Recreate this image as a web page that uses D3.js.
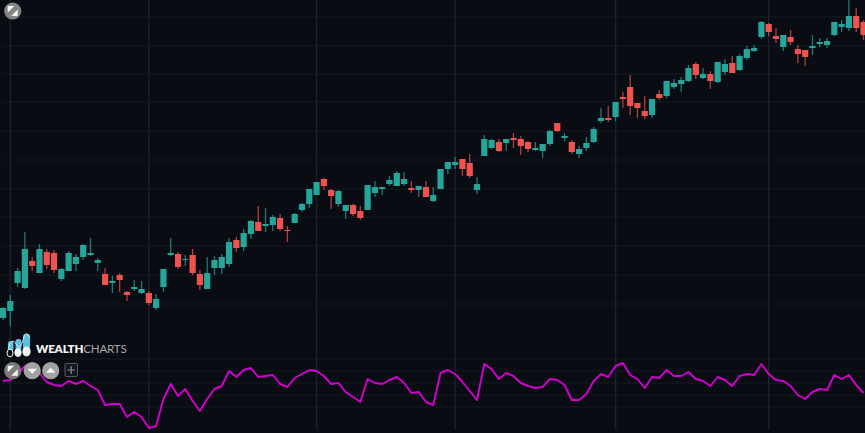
<!DOCTYPE html>
<html><head><meta charset="utf-8">
<script src="https://cdn.jsdelivr.net/npm/d3@7"></script>
<style>html,body{margin:0;padding:0;background:#090c12;overflow:hidden}svg{display:block}</style>
</head><body><svg id="c" width="865" height="433"></svg>
<script>
// price units, one series entry per session
const opens=[182,189,217,212,239,227,248,247,221,229,236,243,245,237,226,217,225,208,211,207,207,192,213,245,246,240,245,226,211,232,232,236,260,253,266,278,274,275,282,270,277,290,296,305,321,310,296,289,295,289,290,307,311,316,314,316,312,310,313,299,311,331,335,341,337,310,344,352,358,357,362,361,358,350,349,356,377,362,358,346,352,358,379,382,383,403,413,397,389,385,406,404,413,416,419,436,422,426,418,428,437,430,442,449,463,476,464,453,463,451,450,452,456,455,465,473,472,484,478];
const closes=[192,199,229,251,234,251,235,230,231,247,243,255,247,240,215,219,220,205,213,211,197,201,231,247,233,241,227,215,227,240,243,258,252,267,279,269,276,283,271,269,286,296,311,318,314,304,309,295,286,282,315,313,313,320,327,321,310,314,303,305,331,338,338,331,324,316,361,360,349,361,360,354,351,352,356,369,369,364,348,351,357,371,382,380,398,401,394,392,384,401,402,419,417,420,432,425,426,419,438,436,427,444,451,452,478,468,461,465,458,446,443,454,458,459,478,476,484,472,465];
const highs=[193,205,232,268,243,256,251,250,232,249,246,256,262,242,232,224,227,209,220,219,209,206,231,262,248,245,251,230,243,244,246,262,263,271,280,294,292,285,286,274,287,297,311,318,322,311,310,295,296,294,315,319,313,324,329,328,319,314,319,313,331,338,343,341,346,323,365,361,361,361,367,364,359,358,356,370,377,367,360,354,363,373,392,394,398,408,425,397,404,401,410,419,421,423,435,438,432,429,438,441,444,446,454,455,479,477,472,465,470,455,450,465,462,462,478,480,500,492,480];
const lows=[180,174,213,211,229,227,231,227,219,229,229,240,244,229,215,207,208,199,209,206,195,190,208,244,231,234,225,210,211,225,226,233,248,249,261,269,268,269,269,258,277,288,292,305,310,291,293,281,284,280,290,303,305,314,314,314,307,303,303,298,311,326,331,324,322,306,344,351,348,349,352,345,348,349,342,354,368,359,346,342,349,357,377,378,379,392,385,382,381,382,400,402,411,408,418,421,421,411,417,425,427,429,440,448,461,464,457,449,455,437,434,445,453,452,464,468,469,468,460];
const oscillator=[119,120,126,134,133,127,118,115,114,119,116,119,114,110,95,96,96,83,88,83,72,74,101,116,104,111,99,89,101,111,114,129,123,130,132,123,124,125,116,113,122,126,130,129,124,116,117,108,103,98,121,117,116,120,123,117,107,108,98,95,127,130,126,118,109,100,136,131,121,127,124,117,114,112,113,121,120,115,100,100,106,119,126,123,134,137,125,121,112,123,122,130,124,124,128,121,119,114,123,120,114,124,126,125,136,126,120,119,114,105,101,108,111,110,125,121,125,115,107];
const priceGrid=[196,225,254,283,311,340,369,398,426,454,483];
const oscGrid=[93,105,117,129,141];
const sessionLines=[1,20,43,62,84,105];
const logoWordBold="WEALTH", logoWordLight="CHARTS";

const W=865,H=433;
const svg=d3.select("#c");
const x=d3.scaleLinear().domain([0,118]).range([3,863.5]);
const y=d3.scaleLinear().domain([0,500]).range([500,0]);
const GRID="#151a22",UP="#26a69a",DOWN="#ef5350",LINE="#d400d0";
svg.append("rect").attr("width",W).attr("height",H).attr("fill","#090c12");
const g=svg.append("g").attr("stroke",GRID).attr("stroke-width",1.2);
g.selectAll(".h").data(priceGrid).join("line").attr("x1",2).attr("x2",W).attr("y1",d=>y(d)).attr("y2",d=>y(d));
g.selectAll(".o").data(oscGrid).join("line").attr("x1",2).attr("x2",W).attr("y1",d=>y(d)).attr("y2",d=>y(d));
g.selectAll(".v").data(sessionLines).join("line").attr("x1",d=>x(d)).attr("x2",d=>x(d)).attr("y1",0).attr("y2",430).attr("stroke","#1a212b").attr("stroke-width",1.5);

const idx=d3.range(opens.length);
const col=i=>closes[i]>=opens[i]?UP:DOWN;
const c=svg.append("g");
c.selectAll(".w").data(idx).join("line").attr("x1",x).attr("x2",x).attr("y1",i=>y(highs[i])).attr("y2",i=>y(lows[i])).attr("stroke",col).attr("stroke-width",1.3).attr("stroke-opacity",.72);
c.selectAll(".b").data(idx).join("rect").attr("x",i=>x(i)-3.1).attr("width",6.2).attr("y",i=>y(Math.max(opens[i],closes[i]))).attr("height",i=>Math.abs(opens[i]-closes[i])).attr("fill",col);

svg.append("path").datum(oscillator).attr("fill","none").attr("stroke",LINE).attr("stroke-width",1.9).attr("stroke-linejoin","round")
  .attr("d",d3.line().x((d,i)=>x(i)).y(d=>y(d)));

// logo
const lg=svg.append("g");
[[8,341,5.5,10],[15.5,339,6,11],[23,334,7,15]].forEach(([a,b,w,h])=>lg.append("rect").attr("x",a).attr("y",b).attr("width",w).attr("height",h).attr("rx",2.6).attr("fill","#5cc0df"));
lg.append("path").attr("d","M8,349 Q12,336 16,344 T23,340 T30,338").attr("fill","none").attr("stroke","#e8f4f8").attr("stroke-width",.8);
[[10,353,3,"#090c12"],[18,352.5,3.2,"#f2f4f4"],[26.5,351.5,3.6,"#f2f4f4"]].forEach(([a,b,r,f])=>lg.append("ellipse").attr("cx",a).attr("cy",b).attr("rx",r).attr("ry",r+.8).attr("fill",f).attr("stroke","#f2f4f4").attr("stroke-width",1));
const t=svg.append("text").attr("x",36).attr("y",352.5).attr("font-family","Lato, 'Open Sans', sans-serif").attr("font-size",11.6).attr("letter-spacing",-.2);
t.append("tspan").attr("font-weight",800).attr("fill","#f2f2f2").text(logoWordBold);
t.append("tspan").attr("font-weight",400).attr("fill","#a8a8a8").text(logoWordLight);

// buttons
function btn(cx,cy,kind,fill){
  const b=svg.append("g").attr("transform",`translate(${cx},${cy})`);
  b.append("circle").attr("r",8.6).attr("fill",fill);
  if(kind==="exp"){
    b.append("path").attr("d","M-5,-5 L1.5,-5 L-5,1.5Z M5,5 L-1.5,5 L5,-1.5Z").attr("fill","#f5f5f5");
  } else if(kind==="down") b.append("path").attr("d","M-4.8,-2 L4.8,-2 L0,3Z").attr("fill","#f5f5f5");
  else b.append("path").attr("d","M-4.8,2 L4.8,2 L0,-3Z").attr("fill","#f5f5f5");
}
btn(12.7,11,"exp","#858585");btn(12.7,370.7,"exp","#7a7a7a");btn(32.2,370.7,"down","#a2a2a2");btn(50.7,370.7,"up","#a2a2a2");
const pb=svg.append("g").attr("transform","translate(71,370)");
pb.append("rect").attr("x",-6).attr("y",-6.5).attr("width",12.5).attr("height",13).attr("rx",1.5).attr("fill","#13161c").attr("stroke","#565a60").attr("stroke-width",1);
pb.append("path").attr("d","M-3.5,0 H4 M0.2,-4 V4").attr("stroke","#8a8d92").attr("stroke-width",1.2);
</script></body></html>
